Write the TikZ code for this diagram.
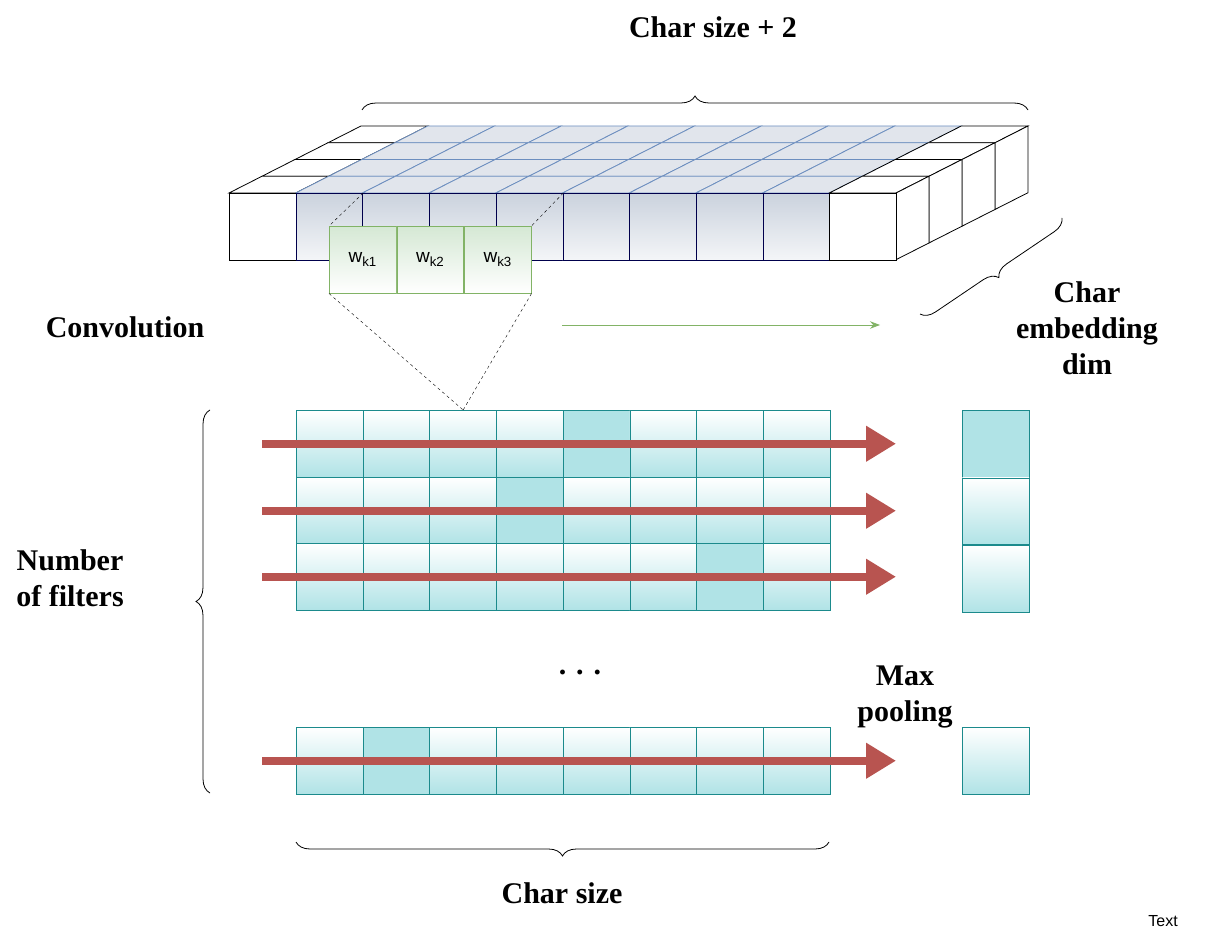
\documentclass[tikz,border=0pt]{standalone}
\usepackage{fontspec}
\setmainfont{Liberation Serif}
\newfontfamily\sansfam{Liberation Sans}
\usetikzlibrary{arrows.meta}
\usetikzlibrary{positioning}
\usetikzlibrary{decorations.pathreplacing}
\definecolor{tealline}{HTML}{1B8A8C}
\definecolor{tealfill}{HTML}{B0E3E6}
\definecolor{redarrow}{HTML}{B85450}
\definecolor{greenline}{HTML}{82B366}
\definecolor{greenfill}{HTML}{D5E8D4}
\definecolor{blueline}{HTML}{6C8EBF}
\definecolor{greyblue}{HTML}{B4BFCF}
\tikzset{
  cell/.style={draw=tealline, thick, minimum size=66.7pt, inner sep=0pt,
    top color=white, bottom color=tealfill},
  hot/.style={cell, fill=tealfill, top color=tealfill, bottom color=tealfill},
  kern/.style={draw=greenline, thick, minimum size=66.7pt, inner sep=0pt,
    top color=greenfill, bottom color=white, font=\sansfam\fontsize{19}{21}\selectfont},
  label/.style={font=\bfseries\fontsize{30}{36}\selectfont, align=center},
  flow/.style={draw=redarrow, line width=8pt, -{Triangle[length=30pt,width=34pt]}},
  brace/.style={decorate, decoration={brace, amplitude=14pt}, thick}
}
\begin{document}
\begin{tikzpicture}[x=1pt,y=-1pt]
  \useasboundingbox (0,0) rectangle (1210,949);
  %% top block: top face
  \foreach \j in {3,2,1,0} {
    \foreach \i in {0,...,9} {
      \ifnum\i=0 \def\ec{black}\def\fc{white}\else\ifnum\i=9 \def\ec{black}\def\fc{white}\else\def\ec{blueline}\def\fc{greyblue!40}\fi\fi
      \filldraw[draw=\ec, fill=\fc, thick]
        ({229+66.7*\i+33*\j},{193-16.75*\j}) -- ++(66.7,0) -- ++(33,-16.75) -- ++(-66.7,0) -- cycle;
    }
  }
  %% top block: right side
  \foreach \j in {3,2,1,0}
    \filldraw[fill=white, thick] ({896+33*\j},{193-16.75*\j}) -- ++(0,66.7) -- ++(33,-16.75) -- ++(0,-66.7) -- cycle;
  %% top block: front face
  \foreach \i in {0,...,9} {
    \ifnum\i=0
      \node[draw, thick, fill=white, minimum size=66.7pt, inner sep=0pt, anchor=north west] (f\i) at ({229+66.7*\i},193) {};
    \else\ifnum\i=9
      \node[draw, thick, fill=white, minimum size=66.7pt, inner sep=0pt, anchor=north west] (f\i) at ({229+66.7*\i},193) {};
    \else
      \node[draw=black!70!blue, thick, top color=greyblue!70, bottom color=greyblue!15, minimum size=66.7pt, inner sep=0pt, anchor=north west] (f\i) at ({229+66.7*\i},193) {};
    \fi\fi
  }
  %% kernel
  \node[kern, anchor=north west] (k1) at (329,226) {w\textsubscript{k1}};
  \node[kern, right=0pt of k1] (k2) {w\textsubscript{k2}};
  \node[kern, right=0pt of k2] (k3) {w\textsubscript{k3}};
  %% feature maps
  \foreach \r/\y/\h in {0/410/4, 1/477/3, 2/543/6, 3/727/1} {
    \foreach \c in {0,...,7} {
      \ifnum\c=\h
        \node[hot, anchor=north west] (m\r\c) at ({296+66.7*\c},\y) {};
      \else
        \node[cell, anchor=north west] (m\r\c) at ({296+66.7*\c},\y) {};
      \fi
    }
  }
  \node[hot, anchor=north west] (p0) at (962,410) {};
  \node[cell, below=0pt of p0] (p1) {};
  \node[cell, below=0pt of p1] (p2) {};
  \node[cell, anchor=north west] (p3) at (962,727) {};
  %% dashed projection
  \draw[dashed] (f1.north east) -- (k1.north west);
  \draw[dashed] (f4.north east) -- (k3.north east);
  \draw[dashed] (k1.south west) -- (m02.north);
  \draw[dashed] (k3.south east) -- (m02.north);
  %% arrows
  \coordinate (g0) at (562,325);
  \coordinate (g1) at (880,325);
  \draw[greenline, thick, -{Stealth[length=10pt]}] (g0) -- (g1);
  \foreach \r in {0,1,2,3} {
    \coordinate (s\r) at (262,0 |- m\r0.center);
    \coordinate (e\r) at (896,0 |- m\r0.center);
    \draw[flow] (s\r) -- (e\r);
  }
  %% braces
  \draw[brace] (362,110) -- (1028,110);
  \draw[brace] (829,842) -- (296,842);
  \draw[brace] (210,793) -- (210,410);
  \draw[brace] (1062,218) -- (920,314);
  %% labels
  \node[label] (lsize2) at (713,27) {Char size + 2};
  \node[label] (lconv) at (125,327) {Convolution};
  \node[label] (lemb) at (1087,328) {Char\\embedding\\dim};
  \node[label] (lnum) at (70,578) {Number\\of filters};
  \node[label] (ldots) at (580,672) {. . .};
  \node[label] (lmax) at (905,697) {Max\\pooling};
  \node[label] (lsize) at (562,893) {Char size};
  \node[font=\sansfam\fontsize{16}{18}\selectfont] (ltext) at (1163,921) {Text};
\end{tikzpicture}
\end{document}
